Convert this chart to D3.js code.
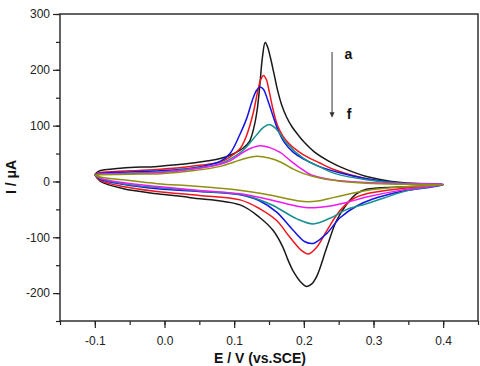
<!DOCTYPE html>
<html>
<head>
<meta charset="utf-8">
<script src="https://cdn.jsdelivr.net/npm/d3@7"></script>
<style>
  body { margin: 0; background: #fff; }
  svg { display: block; }
  .tick text { font-family: "Liberation Sans", Arial, sans-serif; font-size: 12px; fill: #222; }
  .title { font-family: "Liberation Sans", Arial, sans-serif; font-weight: bold; fill: #111; }
</style>
</head>
<body>
<div id="chart"></div>
<script>
var svgWidth = 480;
var svgHeight = 366;

var margin = { top: 14, right: 2, bottom: 45, left: 60 };
var width = svgWidth - margin.left - margin.right;
var height = svgHeight - margin.top - margin.bottom;

// tick labels
var xTicks = [-0.1, 0.0, 0.1, 0.2, 0.3, 0.4];
var yTicks = [-200, -100, 0, 100, 200, 300];

// curve labels and colours, a -> f
var curveNames = ["a", "b", "c", "d", "e", "f"];
var curveColors = ["#1a1a1a", "#f0161c", "#1414e6", "#15908e", "#f018f0", "#8f8f10"];

// [E (V), I (uA)], forward sweep then reverse sweep
var curveA = [
  [-0.1, 12], [-0.095, 18], [-0.06, 24], [-0.01, 27], [0.04, 33], [0.08, 41], [0.1, 50],
  [0.113, 60], [0.122, 72], [0.128, 95], [0.133, 128], [0.137, 175], [0.1405, 222],
  [0.1445, 249], [0.148, 241], [0.152, 222], [0.157, 194], [0.162, 165], [0.168, 138],
  [0.175, 116], [0.183, 98], [0.192, 83], [0.2, 71], [0.215, 53], [0.235, 37], [0.26, 22],
  [0.29, 9], [0.34, -2], [0.4, -6],
  [0.338, -10], [0.29, -14], [0.276, -22], [0.262, -40], [0.247, -70], [0.233, -118],
  [0.2185, -170], [0.211, -184], [0.204, -188], [0.197, -182], [0.1845, -160], [0.177, -140],
  [0.17, -118], [0.156, -88], [0.137, -65], [0.1085, -42], [0.037, -29], [-0.01, -22],
  [-0.059, -13], [-0.092, 0], [-0.1, 12]
];
var curveB = [
  [-0.1, 12], [-0.095, 15], [-0.05, 19], [-0.006, 22], [0.037, 27], [0.08, 35], [0.094, 44],
  [0.1085, 59], [0.118, 83], [0.1276, 124], [0.1335, 160], [0.138, 182], [0.142, 190],
  [0.146, 183], [0.1505, 160], [0.156, 128], [0.163, 98], [0.1755, 72], [0.199, 48],
  [0.223, 33], [0.242, 22], [0.29, 5], [0.338, -4], [0.4, -6],
  [0.338, -13], [0.29, -22], [0.271, -31], [0.252, -52], [0.233, -88], [0.2185, -118],
  [0.2065, -130], [0.197, -124], [0.18, -100], [0.161, -70], [0.137, -49], [0.1085, -33],
  [0.05, -25], [-0.0106, -18], [-0.06, -9], [-0.092, 2], [-0.1, 12]
];
var curveC = [
  [-0.1, 12], [-0.095, 14], [-0.05, 17], [-0.006, 19], [0.04, 24], [0.08, 36], [0.094, 50],
  [0.1085, 85], [0.118, 113], [0.126, 145], [0.132, 163], [0.137, 169], [0.142, 165],
  [0.147, 150], [0.154, 124], [0.162, 95], [0.172, 70], [0.185, 52], [0.2, 40], [0.22, 28],
  [0.25, 16], [0.29, 5], [0.34, -3], [0.4, -6],
  [0.34, -18], [0.3, -31], [0.276, -44], [0.252, -65], [0.233, -93], [0.2137, -111],
  [0.2017, -108], [0.185, -88], [0.161, -55], [0.137, -35], [0.1085, -24], [0.05, -18],
  [-0.01, -13], [-0.06, -5], [-0.092, 4], [-0.1, 12]
];
var curveD = [
  [-0.1, 12], [-0.095, 13], [-0.05, 15], [-0.006, 17], [0.04, 23], [0.08, 32], [0.094, 40],
  [0.113, 56], [0.132, 83], [0.142, 97], [0.1505, 102], [0.158, 97], [0.166, 85],
  [0.1755, 68], [0.199, 42], [0.223, 26], [0.245, 14], [0.29, 3], [0.34, -3], [0.4, -5],
  [0.35, -16], [0.314, -30], [0.29, -40], [0.262, -50], [0.2375, -66], [0.2137, -76],
  [0.19, -67], [0.156, -43], [0.13, -30], [0.1085, -23], [0.05, -17], [-0.01, -11],
  [-0.06, -4], [-0.092, 5], [-0.1, 12]
];
var curveE = [
  [-0.1, 12], [-0.095, 13], [-0.05, 14], [-0.006, 16], [0.04, 22], [0.08, 31], [0.094, 37],
  [0.11, 50], [0.123, 59], [0.138, 64], [0.15, 61], [0.166, 52], [0.18, 38], [0.195, 24],
  [0.21, 12], [0.24, 3], [0.29, -2], [0.34, -4], [0.4, -5],
  [0.338, -16], [0.29, -28], [0.26, -38], [0.233, -45], [0.215, -47], [0.199, -46],
  [0.175, -40], [0.156, -34], [0.13, -27], [0.1085, -22], [0.05, -16], [-0.01, -9],
  [-0.06, -2], [-0.092, 6], [-0.1, 12]
];
var curveF = [
  [-0.1, 12], [-0.095, 12], [-0.05, 13], [-0.006, 14], [0.04, 19], [0.08, 27], [0.1, 35],
  [0.118, 42], [0.132, 45], [0.15, 42], [0.168, 34], [0.185, 22], [0.2, 14], [0.223, 6],
  [0.25, 1], [0.29, -3], [0.34, -5], [0.4, -6],
  [0.338, -10], [0.29, -16], [0.26, -24], [0.242, -29], [0.22, -35], [0.2, -36],
  [0.18, -32], [0.155, -25], [0.137, -21], [0.11, -16], [0.089, -13], [0.04, -8],
  [-0.01, -4], [-0.06, 3], [-0.092, 8], [-0.1, 12]
];
var curves = [curveA, curveB, curveC, curveD, curveE, curveF];

var svg = d3.select("#chart")
  .append("svg")
  .attr("width", svgWidth)
  .attr("height", svgHeight);

var chartGroup = svg.append("g")
  .attr("transform", "translate(" + margin.left + ", " + margin.top + ")");

var xScale = d3.scaleLinear().domain([-0.15, 0.45]).range([0, width]);
var yScale = d3.scaleLinear().domain([-250, 300]).range([height, 0]);

// minor ticks first, then the labelled ones
var xMinor = d3.range(-0.15, 0.451, 0.05);
var yMinor = d3.range(-250, 301, 50);

chartGroup.append("g")
  .attr("transform", "translate(0, " + height + ")")
  .call(d3.axisBottom(xScale).tickValues(xMinor).tickSize(4).tickFormat(""));
chartGroup.append("g")
  .call(d3.axisLeft(yScale).tickValues(yMinor).tickSize(4).tickFormat(""));

var xAxis = chartGroup.append("g")
  .attr("transform", "translate(0, " + height + ")")
  .call(d3.axisBottom(xScale).tickValues(xTicks).tickSize(7).tickPadding(6)
    .tickFormat(d3.format(".1f")));
var yAxis = chartGroup.append("g")
  .call(d3.axisLeft(yScale).tickValues(yTicks).tickSize(7).tickPadding(3)
    .tickFormat(d3.format("d")));

chartGroup.selectAll(".domain").remove();
chartGroup.selectAll(".tick line").attr("stroke", "#222").attr("stroke-width", 1.2);
xAxis.selectAll("text").attr("dy", "0.9em");
// d3 uses a unicode minus, the figure has a plain hyphen
chartGroup.selectAll(".tick text").text(function() {
  return d3.select(this).text().replace("\u2212", "-");
});

// frame
chartGroup.append("rect")
  .attr("x", 0)
  .attr("y", 0)
  .attr("width", width)
  .attr("height", height)
  .attr("fill", "none")
  .attr("stroke", "#222")
  .attr("stroke-width", 1.4);

var line = d3.line()
  .x(function(d) { return xScale(d[0]); })
  .y(function(d) { return yScale(d[1]); })
  .curve(d3.curveCatmullRom.alpha(0.5));

chartGroup.selectAll(".cv")
  .data(curves)
  .enter()
  .append("path")
  .attr("class", "cv")
  .attr("d", line)
  .attr("fill", "none")
  .attr("stroke", function(d, i) { return curveColors[i]; })
  .attr("stroke-width", 1.5);

// arrow a -> f
var arrowX = xScale(0.2405);
chartGroup.append("line")
  .attr("x1", arrowX)
  .attr("x2", arrowX)
  .attr("y1", yScale(232))
  .attr("y2", yScale(122))
  .attr("stroke", "#555")
  .attr("stroke-width", 1.2);
chartGroup.append("path")
  .attr("d", "M" + (arrowX - 2.5) + "," + yScale(124) + "L" + (arrowX + 2.5) + "," + yScale(124) +
    "L" + arrowX + "," + yScale(114) + "Z")
  .attr("fill", "#333");

chartGroup.append("text")
  .attr("class", "title")
  .attr("x", xScale(0.2585))
  .attr("y", yScale(219))
  .style("font-size", "14px")
  .text(curveNames[0]);
chartGroup.append("text")
  .attr("class", "title")
  .attr("x", xScale(0.2615))
  .attr("y", yScale(112))
  .style("font-size", "14px")
  .text(curveNames[5]);

// axis titles
svg.append("text")
  .attr("class", "title")
  .attr("x", 260)
  .attr("y", 363)
  .attr("text-anchor", "middle")
  .style("font-size", "14px")
  .text("E / V (vs.SCE)");

svg.append("text")
  .attr("class", "title")
  .attr("transform", "translate(16, 177)rotate(-90)")
  .attr("text-anchor", "middle")
  .style("font-size", "14px")
  .text("I / \u03bcA");
</script>
</body>
</html>
